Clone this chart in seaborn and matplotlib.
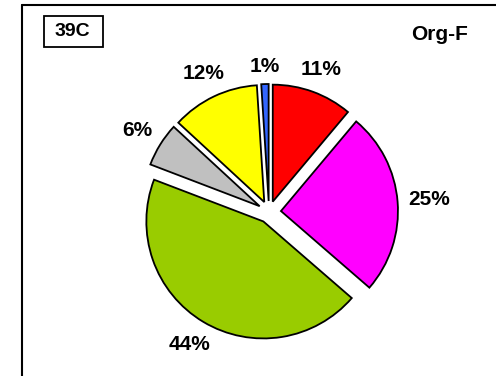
import matplotlib
matplotlib.use("Agg")
import numpy as np
import matplotlib.pyplot as plt
from matplotlib.lines import Line2D
from matplotlib.patches import Rectangle
import seaborn as sns

# Data
categories = ["A", "B", "C", "D", "E", "F"]
values = [11, 25, 44, 6, 12, 1]
labels = ["11%", "25%", "44%", "6%", "12%", "1%"]
colors = ["#FF0000", "#FF00FF", "#99CC00", "#C0C0C0", "#FFFF00", "#3366FF"]
chart_id = "39C"
chart_title = "Org-F"

sns.set_theme(style="white")
plt.rcParams["font.family"] = ["Liberation Sans", "DejaVu Sans"]
plt.rcParams["text.color"] = "black"

W, H = 496, 376
fig = plt.figure(figsize=(W / 100, H / 100), dpi=100)
ax = fig.add_axes([0, 0, 1, 1])

R = 117
CX, CY = 269, H - 212
explode = [11, 12, 11, 11, 11, 11]
wedges, texts = ax.pie(
    values,
    labels=labels,
    colors=colors,
    startangle=90,
    counterclock=False,
    explode=explode,
    radius=R,
    center=(CX, CY),
    labeldistance=1.2,
    wedgeprops=dict(edgecolor="black", linewidth=1.3),
    textprops=dict(fontsize=15, fontweight="bold", color="black"),
    frame=True,
)
ax.set_xlim(0, W)
ax.set_ylim(0, H)
ax.set_aspect("equal")
ax.axis("off")

# place each label just outside its wedge, Excel-like (label box edge at fixed gap)
fig.canvas.draw()
renderer = fig.canvas.get_renderer()
gap = 10
for w, t, e in zip(wedges, texts, explode):
    t.set_ha("center")
    t.set_va("center")
    th = np.deg2rad(0.5 * (w.theta1 + w.theta2))
    ux, uy = np.cos(th), np.sin(th)
    cx, cy = w.center
    bb = t.get_window_extent(renderer)
    hw, hh = bb.width / 2, bb.height / 2 * 0.72
    d = R + gap + abs(ux) * hw + abs(uy) * hh
    t.set_position((cx + d * ux, cy + d * uy))

# outer frame (left and top edges visible)
fig.add_artist(Line2D([21.5 / W, 21.5 / W], [0, 1 - 4.5 / H], color="black", lw=1.5))
fig.add_artist(Line2D([21.5 / W, 1], [1 - 4.5 / H, 1 - 4.5 / H], color="black", lw=1.5))

ax.add_patch(Rectangle((43.5, H - 47), 59, 31, facecolor="white", edgecolor="black",
                       linewidth=1.3))
ax.text(72.5, H - 31.5, chart_id, ha="center", va="center", fontsize=14, fontweight="bold",
        color="black")
ax.text(440, H - 34, chart_title, ha="center", va="center", fontsize=15, fontweight="bold",
        color="black")

fig.savefig("out.png", dpi=100)
